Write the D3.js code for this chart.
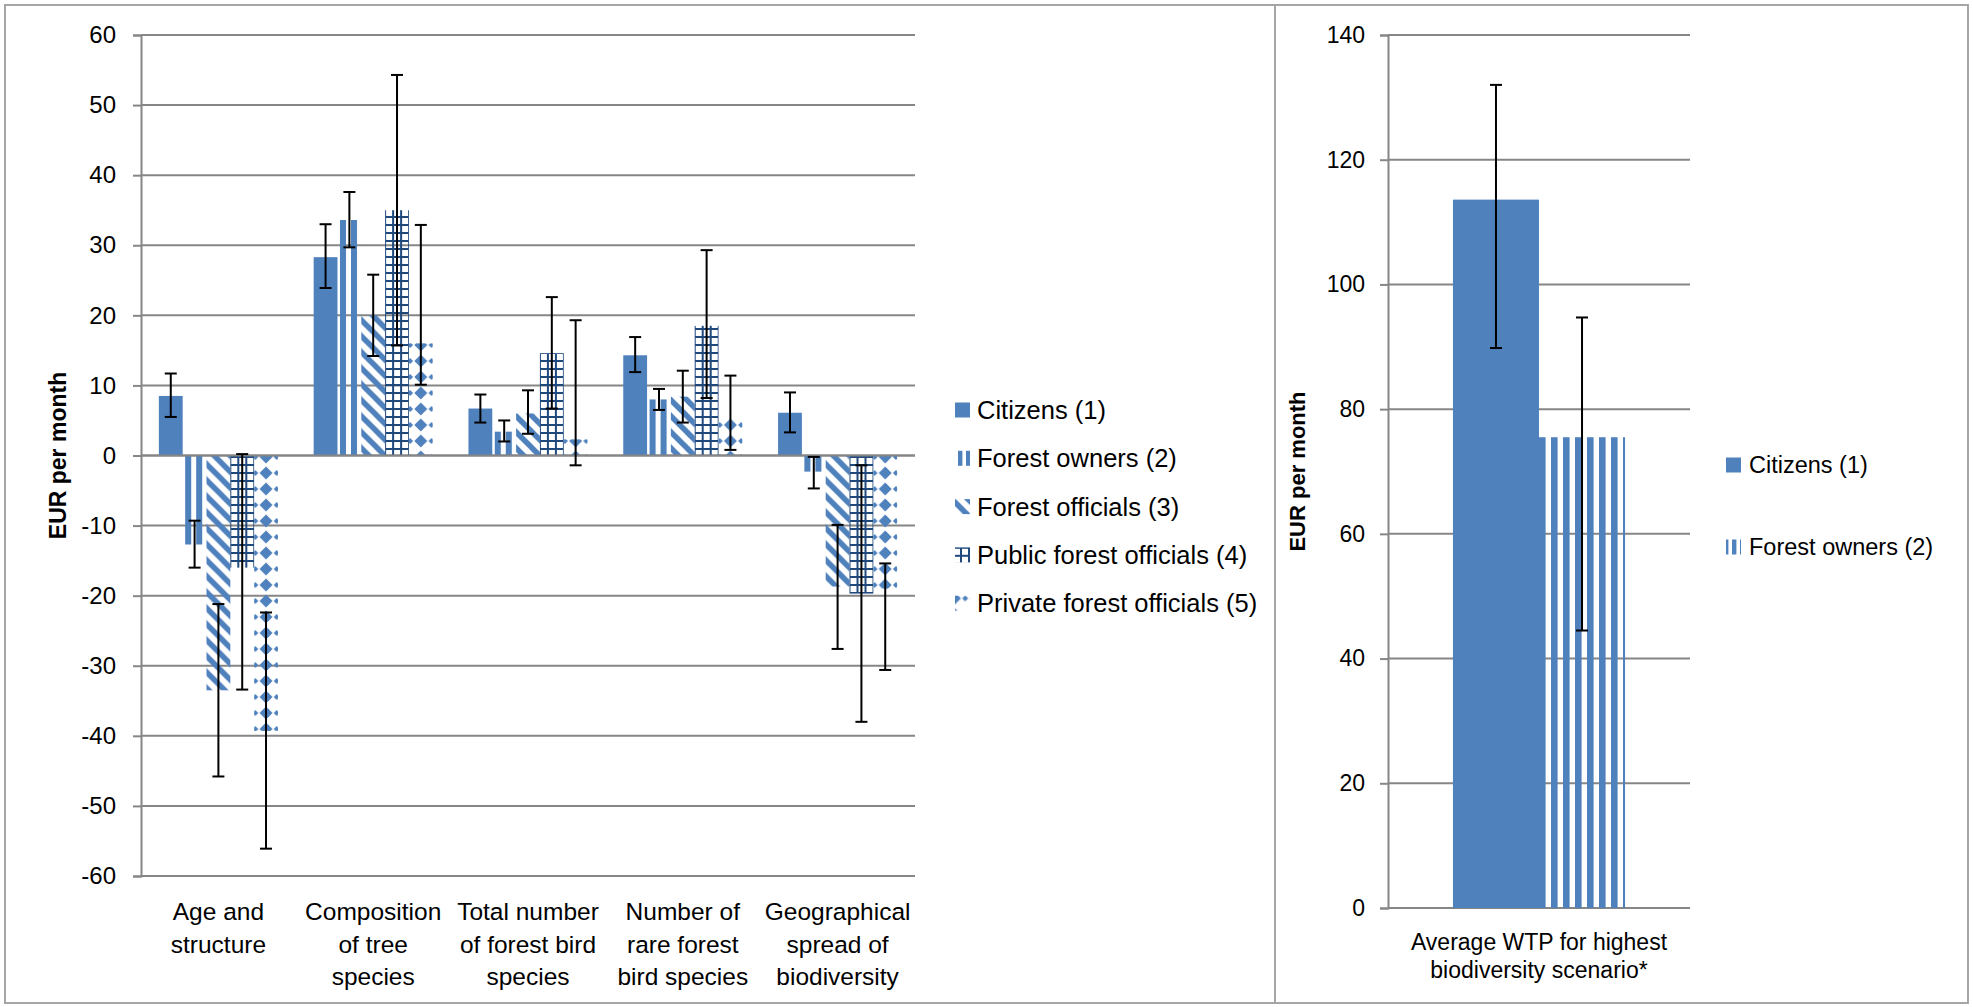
<!DOCTYPE html>
<html>
<head>
<meta charset="utf-8">
<script src="https://cdn.jsdelivr.net/npm/d3@7"></script>
<style>
  body { margin: 0; background: #fff; }
  text { font-family: "Liberation Sans", Arial, sans-serif; fill: #000; }
</style>
</head>
<body>
<div id="chart"></div>
<script>
// ---- left chart data (EUR per month, marginal WTP by attribute) ----
const categories = [
  ["Age and", "structure"],
  ["Composition", "of tree", "species"],
  ["Total number", "of forest bird", "species"],
  ["Number of", "rare forest", "bird species"],
  ["Geographical", "spread of", "biodiversity"]
];
const seriesNames = ["Citizens (1)", "Forest owners (2)", "Forest officials (3)",
                     "Public forest officials (4)", "Private forest officials (5)"];
const citizens         = [8.5, 28.3, 6.7, 14.3, 6.1];
const forestOwners     = [-12.7, 33.6, 3.4, 8.0, -2.3];
const forestOfficials  = [-33.5, 20.0, 6.0, 8.4, -18.7];
const publicOfficials  = [-16.0, 35.0, 14.6, 18.5, -19.7];
const privateOfficials = [-39.3, 16.0, 2.3, 5.2, -19.0];
// error bar ends [low, high]
const citizensErr         = [[5.5, 11.7], [23.9, 33.0], [4.7, 8.7], [11.9, 16.9], [3.3, 9.0]];
const forestOwnersErr     = [[-16.0, -9.3], [29.7, 37.6], [2.0, 5.0], [6.5, 9.5], [-4.7, -0.2]];
const forestOfficialsErr  = [[-45.8, -21.2], [14.2, 25.8], [3.1, 9.3], [4.7, 12.1], [-27.6, -9.9]];
const publicOfficialsErr  = [[-33.4, 0.2], [15.7, 54.3], [6.7, 22.6], [8.2, 29.3], [-38.0, -1.4]];
const privateOfficialsErr = [[-56.1, -22.4], [10.1, 32.9], [-1.4, 19.3], [0.8, 11.4], [-30.6, -15.4]];
const leftTicks = [-60, -50, -40, -30, -20, -10, 0, 10, 20, 30, 40, 50, 60];

// ---- right chart data ----
const wtpCategory = ["Average WTP for highest", "biodiversity scenario*"];
const wtpSeries = ["Citizens (1)", "Forest owners (2)"];
const wtpValues = [113.6, 75.5];
const wtpErr = [[89.8, 132.0], [44.5, 94.7]];
const rightTicks = [0, 20, 40, 60, 80, 100, 120, 140];

const blue = "#4F81BD", navy = "#1F497D", gridGray = "#868686";
const leftSeries = [citizens, forestOwners, forestOfficials, publicOfficials, privateOfficials];
const leftErr = [citizensErr, forestOwnersErr, forestOfficialsErr, publicOfficialsErr, privateOfficialsErr];
const kinds = ["solid", "stripes", "diag", "grid", "diamond"];

const svg = d3.select("#chart").append("svg")
  .attr("width", 1973).attr("height", 1007);
const defs = svg.append("defs");

// pattern fills, one per mark so the tile lines up with the bar edge
function makePattern(id, kind, ox, oy, period) {
  const p = defs.append("pattern").attr("id", id)
    .attr("patternUnits", "userSpaceOnUse").attr("x", ox).attr("y", oy);
  if (kind === "stripes") {
    p.attr("width", period).attr("height", period);
    p.append("rect").attr("width", period * 0.55).attr("height", period).attr("fill", blue);
  } else if (kind === "diag") {
    p.attr("width", 16).attr("height", 16);
    p.append("path").attr("d", "M-4,12L4,20M0,0L16,16M12,-4L20,4")
      .attr("stroke", blue).attr("stroke-width", 5.5);
  } else if (kind === "grid") {
    p.attr("width", 8).attr("height", 8);
    p.append("path").attr("d", "M1,0V8M0,1H8").attr("stroke", navy).attr("stroke-width", 2);
  } else if (kind === "diamond") {
    p.attr("width", 21.4).attr("height", 16);
    p.append("path").attr("fill", blue)
      .attr("d", "M10.7,1.5L17.2,8L10.7,14.5L4.2,8Z M0,5L3,8L0,11L-3,8Z M21.4,5L24.4,8L21.4,11L18.4,8Z");
  }
  return "url(#" + id + ")";
}

function fillFor(kind, id, x, w, period) {
  if (kind === "solid") return blue;
  if (kind === "stripes") return makePattern(id, kind, x + 2.5, 0, period);
  if (kind === "grid") return makePattern(id, kind, x - 1, 0);
  if (kind === "diamond") return makePattern(id, kind, x + w / 2 - 10.7, 1);
  return makePattern(id, kind, x, 0);
}

// frame
svg.append("rect").attr("x", 5).attr("y", 5).attr("width", 1963).attr("height", 998)
  .attr("fill", "none").attr("stroke", "#a6a6a6").attr("stroke-width", 2);
svg.append("line").attr("x1", 1275).attr("x2", 1275).attr("y1", 5).attr("y2", 1003)
  .attr("stroke", "#a6a6a6").attr("stroke-width", 2);

// ================= LEFT CHART =================
const y = d3.scaleLinear().domain([-60, 60]).range([876, 35]);
const x0 = d3.scaleBand().domain(d3.range(categories.length)).range([141, 915]);
const x1 = d3.scaleBand().domain(d3.range(seriesNames.length))
  .range([0, x0.bandwidth()]).paddingOuter(0.75);

const left = svg.append("g");

left.append("g").selectAll("line").data(leftTicks).enter().append("line")
  .attr("x1", 141).attr("x2", 915)
  .attr("y1", d => y(d)).attr("y2", d => y(d))
  .attr("stroke", gridGray).attr("stroke-width", 2);

const yAxis = left.append("g").attr("transform", "translate(141,0)")
  .call(d3.axisLeft(y).tickValues(leftTicks).tickFormat(d => String(d)).tickSize(8).tickPadding(17));
yAxis.select(".domain").attr("stroke", gridGray).attr("stroke-width", 2);
yAxis.selectAll(".tick line").attr("stroke", gridGray).attr("stroke-width", 2);
yAxis.selectAll(".tick text").attr("font-size", 24).attr("font-family", "Liberation Sans, Arial, sans-serif");

const bars = [];
categories.forEach((c, ci) => leftSeries.forEach((vals, si) => {
  bars.push({ ci, si, v: vals[ci], lo: leftErr[si][ci][0], hi: leftErr[si][ci][1] });
}));

left.append("g").selectAll("rect").data(bars).enter().append("rect")
  .attr("x", d => x0(d.ci) + x1(d.si))
  .attr("width", x1.bandwidth())
  .attr("y", d => y(Math.max(0, d.v)))
  .attr("height", d => Math.abs(y(d.v) - y(0)))
  .attr("fill", d => fillFor(kinds[d.si], "pL" + d.si + "_" + d.ci, x0(d.ci) + x1(d.si), x1.bandwidth(), 11));

// category axis at zero
left.append("line").attr("x1", 141).attr("x2", 915).attr("y1", y(0)).attr("y2", y(0))
  .attr("stroke", gridGray).attr("stroke-width", 2);

const err = left.append("g").selectAll("g").data(bars).enter().append("g")
  .attr("stroke", "#000").attr("stroke-width", 2);
err.append("line")
  .attr("x1", d => x0(d.ci) + x1(d.si) + x1.bandwidth() / 2)
  .attr("x2", d => x0(d.ci) + x1(d.si) + x1.bandwidth() / 2)
  .attr("y1", d => y(d.lo)).attr("y2", d => y(d.hi));
["lo", "hi"].forEach(k => {
  err.append("line")
    .attr("x1", d => x0(d.ci) + x1(d.si) + x1.bandwidth() / 2 - 6)
    .attr("x2", d => x0(d.ci) + x1(d.si) + x1.bandwidth() / 2 + 6)
    .attr("y1", d => y(d[k])).attr("y2", d => y(d[k]));
});

// category labels
left.append("g").selectAll("text").data(categories).enter().append("text")
  .attr("text-anchor", "middle").attr("font-size", 24.5)
  .each(function (lines, ci) {
    d3.select(this).selectAll("tspan").data(lines).enter().append("tspan")
      .attr("x", x0(ci) + x0.bandwidth() / 2)
      .attr("y", (d, i) => 920 + i * 32.5)
      .text(d => d);
  });

left.append("text")
  .attr("transform", "translate(58," + (y(60) + y(-60)) / 2 + ") rotate(-90)")
  .attr("text-anchor", "middle").attr("dominant-baseline", "central")
  .attr("font-size", 23).attr("font-weight", "bold")
  .text("EUR per month");

// legend
const leg = left.append("g").selectAll("g").data(seriesNames).enter().append("g")
  .attr("transform", (d, i) => "translate(955," + (410 + i * 48.3) + ")");
leg.append("rect").attr("x", 0).attr("y", -7.5).attr("width", 15).attr("height", 15)
  .attr("fill", (d, i) => {
    const k = kinds[i];
    if (k === "solid") return blue;
    if (k === "stripes") return makePattern("lgL" + i, k, 955, 0, 8);
    if (k === "diamond") return makePattern("lgL" + i, k, 955 + 7.5 - 10.7, 410 + i * 48.3 - 8);
    if (k === "grid") return makePattern("lgL" + i, k, 955 + 2, 410 + i * 48.3 - 3);
    return makePattern("lgL" + i, k, 955 - 4, 410 + i * 48.3 - 8);
  });
leg.append("text").attr("x", 22).attr("y", 9).attr("font-size", 25.5).text(d => d);

// ================= RIGHT CHART =================
const yr = d3.scaleLinear().domain([0, 140]).range([908, 35]);
const xr0 = d3.scaleBand().domain([0]).range([1388, 1690]);
const xr1 = d3.scaleBand().domain(d3.range(wtpSeries.length))
  .range([0, xr0.bandwidth()]).paddingOuter(0.755);

const right = svg.append("g");

right.append("g").selectAll("line").data(rightTicks).enter().append("line")
  .attr("x1", 1388).attr("x2", 1690)
  .attr("y1", d => yr(d)).attr("y2", d => yr(d))
  .attr("stroke", gridGray).attr("stroke-width", 2);

const yrAxis = right.append("g").attr("transform", "translate(1388,0)")
  .call(d3.axisLeft(yr).tickValues(rightTicks).tickSize(8).tickPadding(15));
yrAxis.select(".domain").attr("stroke", gridGray).attr("stroke-width", 2);
yrAxis.selectAll(".tick line").attr("stroke", gridGray).attr("stroke-width", 2);
yrAxis.selectAll(".tick text").attr("font-size", 23).attr("font-family", "Liberation Sans, Arial, sans-serif");

const wtpBars = wtpValues.map((v, i) => ({ i, v, lo: wtpErr[i][0], hi: wtpErr[i][1] }));
const rKinds = ["solid", "stripes"];

right.append("g").selectAll("rect").data(wtpBars).enter().append("rect")
  .attr("x", d => xr0(0) + xr1(d.i))
  .attr("width", xr1.bandwidth())
  .attr("y", d => yr(d.v))
  .attr("height", d => yr(0) - yr(d.v))
  .attr("fill", d => fillFor(rKinds[d.i], "pR" + d.i, xr0(0) + xr1(d.i) - 2.5, xr1.bandwidth(), 12));

const rErr = right.append("g").selectAll("g").data(wtpBars).enter().append("g")
  .attr("stroke", "#000").attr("stroke-width", 2);
rErr.append("line")
  .attr("x1", d => xr0(0) + xr1(d.i) + xr1.bandwidth() / 2)
  .attr("x2", d => xr0(0) + xr1(d.i) + xr1.bandwidth() / 2)
  .attr("y1", d => yr(d.lo)).attr("y2", d => yr(d.hi));
["lo", "hi"].forEach(k => {
  rErr.append("line")
    .attr("x1", d => xr0(0) + xr1(d.i) + xr1.bandwidth() / 2 - 6)
    .attr("x2", d => xr0(0) + xr1(d.i) + xr1.bandwidth() / 2 + 6)
    .attr("y1", d => yr(d[k])).attr("y2", d => yr(d[k]));
});

right.append("text").attr("text-anchor", "middle").attr("font-size", 23)
  .selectAll("tspan").data(wtpCategory).enter().append("tspan")
  .attr("x", xr0(0) + xr0.bandwidth() / 2)
  .attr("y", (d, i) => 950 + i * 28)
  .text(d => d);

right.append("text")
  .attr("transform", "translate(1297," + (yr(0) + yr(140)) / 2 + ") rotate(-90)")
  .attr("text-anchor", "middle").attr("dominant-baseline", "central")
  .attr("font-size", 22).attr("font-weight", "bold")
  .text("EUR per month");

const rLeg = right.append("g").selectAll("g").data(wtpSeries).enter().append("g")
  .attr("transform", (d, i) => "translate(1726," + (465 + i * 82) + ")");
rLeg.append("rect").attr("x", 0).attr("y", -7.5).attr("width", 15).attr("height", 15)
  .attr("fill", (d, i) => rKinds[i] === "solid" ? blue : makePattern("lgR" + i, "stripes", 1726, 0, 8));
rLeg.append("text").attr("x", 23).attr("y", 8).attr("font-size", 23.5).text(d => d);
</script>
</body>
</html>
